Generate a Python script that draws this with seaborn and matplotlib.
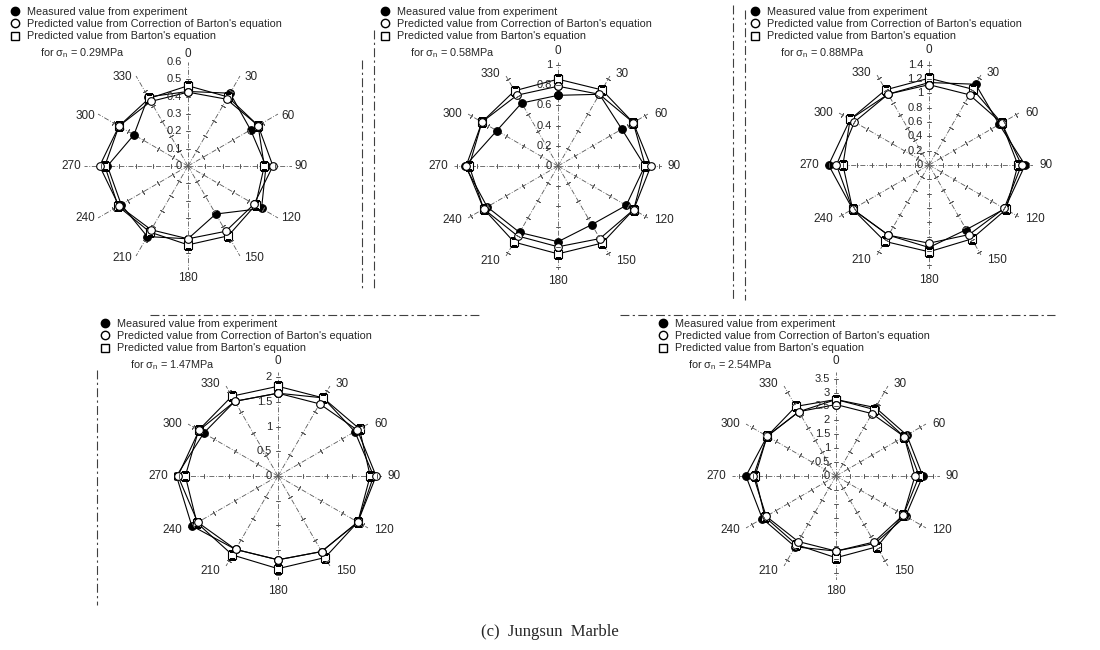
import numpy as np
import matplotlib
matplotlib.use("Agg")
import matplotlib.pyplot as plt
import matplotlib.transforms as mtransforms
from matplotlib.lines import Line2D
import pandas as pd
import seaborn as sns

# direction of shearing (degrees)
angles = [0, 30, 60, 90, 120, 150, 180, 210, 240, 270, 300, 330]

# sigma_n = 0.29 MPa
measured_029 = [0.43, 0.485, 0.417, 0.45, 0.49, 0.32, 0.42, 0.47, 0.445, 0.465, 0.36, 0.46]
corrected_029 = [0.426, 0.445, 0.467, 0.49, 0.44, 0.435, 0.42, 0.425, 0.46, 0.51, 0.46, 0.43]
barton_029 = [0.463, 0.46, 0.467, 0.44, 0.45, 0.465, 0.455, 0.44, 0.465, 0.48, 0.46, 0.45]
rticks_029 = [0, 0.1, 0.2, 0.3, 0.4, 0.5, 0.6]

# sigma_n = 0.58 MPa
measured_058 = [0.70, 0.82, 0.73, 0.86, 0.78, 0.67, 0.75, 0.76, 0.81, 0.92, 0.70, 0.72]
corrected_058 = [0.79, 0.82, 0.86, 0.92, 0.865, 0.83, 0.80, 0.80, 0.85, 0.91, 0.87, 0.81]
barton_058 = [0.86, 0.87, 0.86, 0.865, 0.865, 0.88, 0.87, 0.87, 0.85, 0.88, 0.87, 0.86]
rticks_058 = [0, 0.2, 0.4, 0.6, 0.8, 1]

# sigma_n = 0.88 MPa
measured_088 = [1.15, 1.30, 1.13, 1.34, 1.22, 1.04, 1.15, 1.13, 1.23, 1.40, 1.27, 1.14]
corrected_088 = [1.12, 1.13, 1.17, 1.29, 1.21, 1.12, 1.09, 1.13, 1.23, 1.29, 1.20, 1.14]
barton_088 = [1.21, 1.22, 1.17, 1.24, 1.24, 1.19, 1.21, 1.23, 1.23, 1.20, 1.27, 1.21]
rticks_088 = [0, 0.2, 0.4, 0.6, 0.8, 1, 1.2, 1.4]

# sigma_n = 1.47 MPa
measured_147 = [1.68, 1.83, 1.80, 1.94, 1.87, 1.77, 1.70, 1.72, 2.02, 2.06, 1.74, 1.75]
corrected_147 = [1.68, 1.69, 1.86, 1.99, 1.87, 1.77, 1.70, 1.72, 1.88, 2.03, 1.85, 1.75]
barton_147 = [1.82, 1.83, 1.91, 1.87, 1.87, 1.91, 1.88, 1.85, 1.90, 1.88, 1.86, 1.87]
rticks_147 = [0, 0.5, 1, 1.5, 2]

# sigma_n = 2.54 MPa
measured_254 = [2.75, 2.84, 2.94, 3.12, 2.89, 2.80, 2.70, 2.94, 3.06, 3.24, 2.86, 2.67]
corrected_254 = [2.57, 2.59, 2.83, 2.84, 2.80, 2.74, 2.70, 2.72, 2.90, 2.97, 2.86, 2.67]
barton_254 = [2.75, 2.76, 2.83, 2.99, 2.80, 2.94, 2.94, 2.85, 2.95, 2.91, 2.86, 2.89]
rticks_254 = [0, 0.5, 1, 1.5, 2, 2.5, 3, 3.5]

legend_labels = ["Measured value from experiment",
                 "Predicted value from Correction of Barton's equation",
                 "Predicted value from Barton's equation"]

sns.set_theme(style="white")
plt.rcParams["font.family"] = ["Liberation Sans", "DejaVu Sans"]
plt.rcParams["mathtext.fontset"] = "custom"
plt.rcParams["mathtext.rm"] = "Liberation Sans"
plt.rcParams["mathtext.it"] = "Liberation Sans:italic"

W, H = 1100, 650
R = 104
fig = plt.figure(figsize=(11, 6.5), dpi=100)
fig.patch.set_facecolor("white")

# pixel nudges of the direction labels, left/right side (dy)
label_dy = {30: 2, 60: 0, 90: 0, 120: -2, 150: -5}


def radar_panel(center, rmax, measured, corrected, barton, rticks, stress, marker_xy):
    cx, cy = center
    ax = fig.add_axes([(cx - R) / W, 1 - (cy + R) / H, 2 * R / W, 2 * R / H],
                      projection="polar")
    ax.set_facecolor("none")
    ax.set_theta_zero_location("N")
    ax.set_theta_direction(-1)

    df = pd.DataFrame({
        "theta": np.deg2rad(angles + [360]),
        "measured": measured + measured[:1],
        "corrected": corrected + corrected[:1],
        "barton": barton + barton[:1],
    })
    for col, mk, fc in [("measured", "o", "black"),
                        ("barton", "s", "white"),
                        ("corrected", "o", "white")]:
        sns.lineplot(data=df, x="theta", y=col, ax=ax, sort=False, estimator=None,
                     color="black", lw=0.8, marker=mk, markersize=5.5,
                     markerfacecolor=fc, markeredgecolor="black",
                     markeredgewidth=0.8)

    ax.set_xlabel("")
    ax.set_ylabel("")
    ax.set_ylim(0, rmax)
    ax.set_thetagrids(angles, [""] * len(angles))
    ax.set_yticks(rticks)
    ax.set_yticklabels([])
    ax.yaxis.grid(False)
    ax.xaxis.grid(True, color="0.35", lw=0.6, ls=(0, (6, 2, 1, 2)))
    ax.spines["polar"].set_visible(False)

    # direction labels beside the spoke tips
    for a in angles:
        if a == 0:
            dx, dy, ha = 0, 11, "center"
        elif a == 180:
            dx, dy, ha = 0, -11, "center"
        elif a < 180:
            dx, dy, ha = 6, label_dy[a], "left"
        else:
            dx, dy, ha = -6, label_dy[360 - a], "right"
        tr = mtransforms.offset_copy(ax.transData, fig=fig, x=dx, y=dy, units="dots")
        ax.text(np.deg2rad(a), rmax, str(a), transform=tr, ha=ha, va="center",
                fontsize=8.5, clip_on=False)

    # small cross ticks along every spoke
    rr = [r for r in rticks if 0 < r <= rmax]
    for a in angles:
        ax.plot(np.deg2rad([a] * len(rr)), rr, ls="none", marker=(2, 2, 90 - a),
                ms=3.5, mew=0.6, color="0.35")

    # radial labels left of the 0 spoke
    off = mtransforms.offset_copy(ax.transData, fig=fig, x=-6, y=0, units="dots")
    for r in rticks:
        ax.text(0, r, f"{r:g}", transform=off, ha="right", va="center", fontsize=8)

    mx, my = marker_xy
    handles = [Line2D([], [], marker="o", ls="none", mfc="black", mec="black", ms=6),
               Line2D([], [], marker="o", ls="none", mfc="white", mec="black", ms=6),
               Line2D([], [], marker="s", ls="none", mfc="white", mec="black", ms=5.5)]
    ax.legend(handles, legend_labels, loc="upper left",
              bbox_to_anchor=((mx - 4) / W, 1 - (my - 6) / H),
              bbox_transform=fig.transFigure, frameon=False, fontsize=7.8,
              handlelength=0.7, handletextpad=0.75, labelspacing=0.2,
              borderpad=0, borderaxespad=0)
    fig.text((mx + 25) / W, 1 - (my + 40) / H,
             "for σ$_{\\mathrm{n}}$ = " + stress + "MPa",
             fontsize=7.8, ha="left", va="center")
    return ax


radar_panel((188, 166), 0.58, measured_029, corrected_029, barton_029, rticks_029, "0.29", (15, 13))
radar_panel((558, 166), 1.03, measured_058, corrected_058, barton_058, rticks_058, "0.58", (385, 13))
radar_panel((929, 165), 1.45, measured_088, corrected_088, barton_088, rticks_088, "0.88", (755, 13))
radar_panel((278, 476), 2.11, measured_147, corrected_147, barton_147, rticks_147, "1.47", (105, 325))
radar_panel((836, 476), 3.74, measured_254, corrected_254, barton_254, rticks_254, "2.54", (663, 325))

# faint frame remnants of the scanned page
for (x0, y0, x1, y1) in [(362, 60, 362, 290), (374, 30, 374, 290), (733, 5, 733, 300),
                         (745, 10, 745, 300), (97, 370, 97, 605),
                         (150, 315, 480, 315), (620, 315, 1055, 315)]:
    fig.add_artist(Line2D([x0 / W, x1 / W], [1 - y0 / H, 1 - y1 / H],
                          transform=fig.transFigure, color="0.25", lw=0.8,
                          ls=(0, (8, 3, 2, 3))))

fig.text(0.5, 1 - 632 / H, "(c)  Jungsun  Marble", family="Liberation Serif",
         fontsize=12, ha="center", va="center")

fig.savefig("out.png", dpi=100)
